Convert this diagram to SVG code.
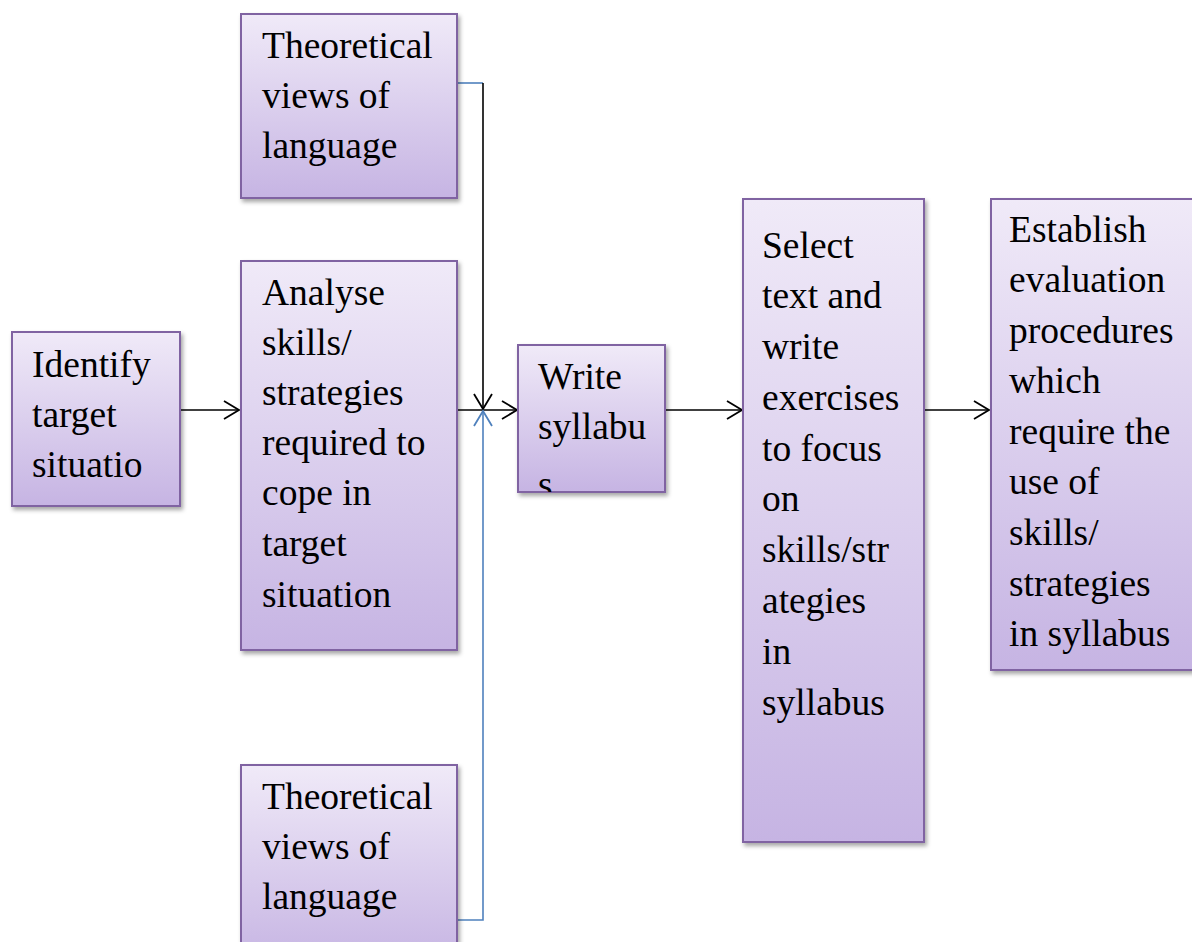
<svg xmlns="http://www.w3.org/2000/svg" width="1192" height="942" viewBox="0 0 1192 942">
<style>
.box{fill:url(#g);stroke:#8064a2;stroke-width:2;filter:url(#sh)}
.t{font-family:"Liberation Serif","Times New Roman",serif;font-size:37.5px;fill:#000}
.k{fill:none;stroke:#000;stroke-width:1.6}
.b{fill:none;stroke:#4f81bd;stroke-width:1.6}
</style>
<defs>
<linearGradient id="g" x1="0" y1="0" x2="0" y2="1">
<stop offset="0" stop-color="#f0eaf8"/>
<stop offset="1" stop-color="#c6b4e3"/>
</linearGradient>
<filter id="sh" x="-10%" y="-10%" width="130%" height="130%">
<feDropShadow dx="2" dy="3" stdDeviation="2" flood-color="#000" flood-opacity="0.35"/>
</filter>
<marker id="ak" markerWidth="18" markerHeight="20" refX="16" refY="10" orient="auto" markerUnits="userSpaceOnUse">
<path d="M1,1 L16,10 L1,19" fill="none" stroke="#000" stroke-width="1.8"/>
</marker>
<marker id="ab" markerWidth="18" markerHeight="20" refX="16" refY="10" orient="auto" markerUnits="userSpaceOnUse">
<path d="M1,1 L16,10 L1,19" fill="none" stroke="#4f81bd" stroke-width="1.8"/>
</marker>
<clipPath id="cw"><rect x="518" y="345" width="147" height="147"/></clipPath>
</defs>
<rect width="1192" height="942" fill="#fff"/>
<g id="connectors">
<path class="k" d="M180,410 H239" marker-end="url(#ak)"/>
<path class="k" d="M457,410 H517" marker-end="url(#ak)"/>
<path class="b" d="M457,83 H483"/>
<path class="k" d="M483,83 V409" marker-end="url(#ak)"/>
<path class="b" d="M457,920 H483 V411" marker-end="url(#ab)"/>
<path class="k" d="M665,410 H742" marker-end="url(#ak)"/>
<path class="k" d="M924,410 H989" marker-end="url(#ak)"/>
</g>
<g id="identify">
<rect class="box" x="12" y="332" width="168" height="174"/>
<text class="t" x="32" y="377">Identify</text>
<text class="t" x="32" y="427">target</text>
<text class="t" x="32" y="477">situatio</text>
</g>
<g id="theory-top">
<rect class="box" x="241" y="14" width="216" height="184"/>
<text class="t" x="262" y="58">Theoretical</text>
<text class="t" x="262" y="108">views of</text>
<text class="t" x="262" y="158">language</text>
</g>
<g id="analyse">
<rect class="box" x="241" y="261" width="216" height="389"/>
<text class="t" x="262" y="305">Analyse</text>
<text class="t" x="262" y="355">skills/</text>
<text class="t" x="262" y="405">strategies</text>
<text class="t" x="262" y="455">required to</text>
<text class="t" x="262" y="505">cope in</text>
<text class="t" x="262" y="556">target</text>
<text class="t" x="262" y="607">situation</text>
</g>
<g id="theory-bottom">
<rect class="box" x="241" y="765" width="216" height="200"/>
<text class="t" x="262" y="809">Theoretical</text>
<text class="t" x="262" y="859">views of</text>
<text class="t" x="262" y="909">language</text>
</g>
<g id="write">
<rect class="box" x="518" y="345" width="147" height="147"/>
<g clip-path="url(#cw)">
<text class="t" x="538" y="389">Write</text>
<text class="t" x="538" y="439">syllabu</text>
<text class="t" x="538" y="497">s</text>
</g>
</g>
<g id="select">
<rect class="box" x="743" y="199" width="181" height="643"/>
<text class="t" x="762" y="258">Select</text>
<text class="t" x="762" y="308">text and</text>
<text class="t" x="762" y="359">write</text>
<text class="t" x="762" y="410">exercises</text>
<text class="t" x="762" y="461">to focus</text>
<text class="t" x="762" y="511">on</text>
<text class="t" x="762" y="562">skills/str</text>
<text class="t" x="762" y="613">ategies</text>
<text class="t" x="762" y="664">in</text>
<text class="t" x="762" y="715">syllabus</text>
</g>
<g id="establish">
<rect class="box" x="991" y="199" width="215" height="471"/>
<text class="t" x="1009" y="242">Establish</text>
<text class="t" x="1009" y="292">evaluation</text>
<text class="t" x="1009" y="343">procedures</text>
<text class="t" x="1009" y="393">which</text>
<text class="t" x="1009" y="444">require the</text>
<text class="t" x="1009" y="494">use of</text>
<text class="t" x="1009" y="545">skills/</text>
<text class="t" x="1009" y="596">strategies</text>
<text class="t" x="1009" y="646">in syllabus</text>
</g>
</svg>
